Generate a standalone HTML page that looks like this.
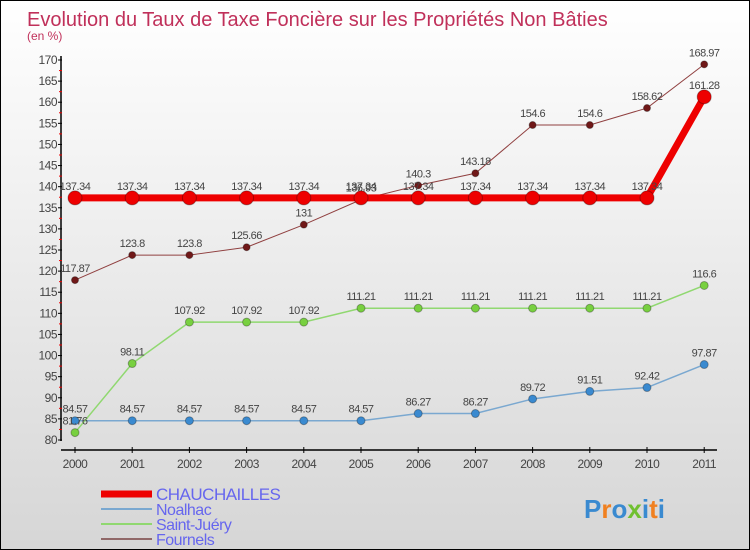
<!DOCTYPE html>
<html><head><meta charset="utf-8"><style>
body{margin:0}
#c{position:relative;width:748px;height:548px;border:1px solid #000;background:linear-gradient(#fff,#d6d6d6);font-family:"Liberation Sans",sans-serif;overflow:hidden}
</style></head><body>
<div id="c">
<svg id="s" width="748" height="548" xmlns="http://www.w3.org/2000/svg" style="position:absolute;left:0;top:0"></svg>
</div>
<script>
const years=[2000,2001,2002,2003,2004,2005,2006,2007,2008,2009,2010,2011];
const chauchailles=[137.34,137.34,137.34,137.34,137.34,137.34,137.34,137.34,137.34,137.34,137.34,161.28];
const noalhac=[84.57,84.57,84.57,84.57,84.57,84.57,86.27,86.27,89.72,91.51,92.42,97.87];
const saintJuery=[81.76,98.11,107.92,107.92,107.92,111.21,111.21,111.21,111.21,111.21,111.21,116.6];
const fournels=[117.87,123.8,123.8,125.66,131,136.93,140.3,143.18,154.6,154.6,158.62,168.97];
const yTicks=[80,85,90,95,100,105,110,115,120,125,130,135,140,145,150,155,160,165,170];
const seriesNames=["CHAUCHAILLES","Noalhac","Saint-Juéry","Fournels"];

const s=document.getElementById('s');const NS='http://www.w3.org/2000/svg';
const xs=i=>74+i*57.2; const ys=v=>439-(v-80)*380/90;
function el(t,a,p){const e=document.createElementNS(NS,t);for(const k in a)e.setAttribute(k,a[k]);(p||s).appendChild(e);return e;}
let t=el('text',{x:26,y:25,'font-size':20,fill:'#c0305a'});t.textContent='Evolution du Taux de Taxe Foncière sur les Propriétés Non Bâties';

t=el('text',{x:26,y:39,'font-size':12,fill:'#c0305a'});t.textContent='(en %)';

let a=el('line',{x1:60,y1:55,x2:60,y2:440,stroke:'#000','stroke-width':1.5});

a=el('line',{x1:60,y1:449,x2:716,y2:449,stroke:'#000','stroke-width':1.5});

yTicks.forEach((v,i)=>{const y=ys(v);el('line',{x1:57,y1:y,x2:61,y2:y,stroke:'#000'});
 if(i<yTicks.length-1)el('line',{x1:58,y1:ys(v+2.5),x2:61,y2:ys(v+2.5),stroke:'#e00'});
 const tt=el('text',{x:56,y:y+4,'font-size':12,fill:'#444','text-anchor':'end','letter-spacing':-0.5});tt.textContent=v;
 });
years.forEach((yr,i)=>{const x=xs(i);el('line',{x1:x,y1:446,x2:x,y2:452,stroke:'#000'});
 const tt=el('text',{x:x,y:467,'font-size':12,fill:'#444','text-anchor':'middle','letter-spacing':-0.5});tt.textContent=yr;
 });
function series(data,color,w,r,fill,name){
 const g=el('g',{});
 el('polyline',{points:data.map((v,i)=>xs(i)+','+ys(v)).join(' '),fill:'none',stroke:color,'stroke-width':w},g);
 data.forEach((v,i)=>{const c=el('circle',{cx:xs(i),cy:ys(v),r:r,fill:fill,stroke:'rgba(0,0,0,0.3)'},g);
  
  const tt=el('text',{x:xs(i),y:ys(v)-8,'font-size':11,fill:'#444','text-anchor':'middle','letter-spacing':-0.5},g);tt.textContent=v;});
}
series(noalhac,'#7aa8d0',1.5,4,'#3a8ad0','noalhac');
series(saintJuery,'#90d870',1.5,4,'#78d040','saint-juery');
series(fournels,'#904040',1,3.5,'#701818','fournels');
series(chauchailles,'#ee0000',7,7,'#ee0000','chauchailles');
const lc=['#ee0000','#7aa8d0','#90d870','#906868'],lw=[7,2,2,2];
seriesNames.forEach((n,i)=>{const y=493+i*15;const g=el('g',{});
 
 el('line',{x1:100,y1:y,x2:151,y2:y,stroke:lc[i],'stroke-width':lw[i]},g);
 const tt=el('text',{x:155,y:y+6,'font-size':i==0?17:16,fill:'#6666ee','letter-spacing':-0.5},g);tt.textContent=n;});
t=el('text',{x:583,y:517,'font-size':26,'font-weight':'bold',fill:'#3a8ad0'});
const cols=['#3a8ad0','#f08020','#3a8ad0','#70c030','#3a8ad0','#f08020','#3a8ad0'];
'Proxiti'.split('').forEach((ch,i)=>{const ts=el('tspan',{fill:cols[i]},t);ts.textContent=ch;});

</script>
</body></html>
